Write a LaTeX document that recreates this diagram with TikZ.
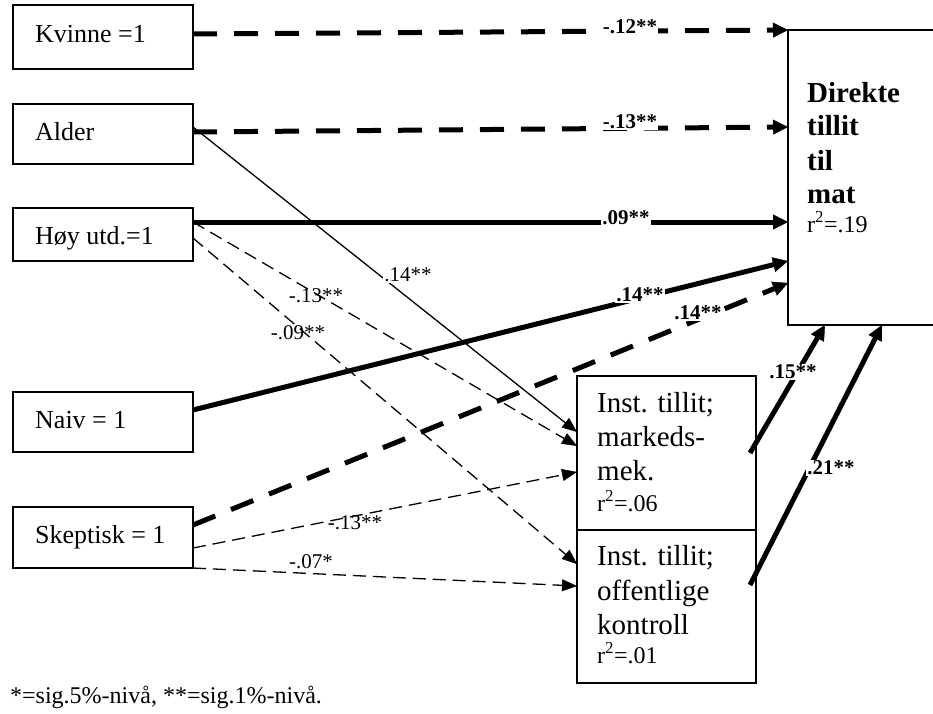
\documentclass[tikz,border=0pt]{standalone}
\usepackage{fontspec}
\setmainfont{Liberation Serif}
\usetikzlibrary{arrows.meta}
\begin{document}
\begin{tikzpicture}[x=1pt,y=-1pt,
  box/.style={draw, line width=1.4pt, inner sep=0pt, outer sep=0pt},
  lt/.style={anchor=base west, inner sep=0pt, font=\fontsize{26}{30}\selectfont},
  rt/.style={anchor=base west, inner sep=0pt, font=\fontsize{29}{33}\selectfont},
  rb/.style={anchor=base west, inner sep=0pt, font=\fontsize{29}{33}\selectfont\bfseries},
  rr/.style={anchor=base west, inner sep=0pt, font=\fontsize{24}{28}\selectfont},
  lab/.style={inner sep=1pt, font=\fontsize{21}{24}\selectfont},
  gap/.style={lab, fill=white},
  bigtip/.style={-{Triangle[length=15pt,width=15pt,line width=0.4pt]}},
  smalltip/.style={-{Triangle[length=15pt,width=12pt,line width=0.4pt]}},
  thk/.style={line width=5pt, bigtip},
  thkdash/.style={thk, dash pattern=on 24pt off 17pt},
  thn/.style={line width=1.3pt, smalltip},
  thndash/.style={thn, dash pattern=on 13pt off 7pt}
]
\useasboundingbox (0,0) rectangle (933,713);

% boxes
\node[box, minimum width=180pt, minimum height=64pt] (kv) at (103,37) {};
\node[box, minimum width=180pt, minimum height=60pt] (al) at (103,134) {};
\node[box, minimum width=180pt, minimum height=53pt] (hu) at (103,234.5) {};
\node[box, minimum width=180pt, minimum height=60pt] (na) at (103,422) {};
\node[box, minimum width=180pt, minimum height=61pt] (sk) at (103,537.5) {};
\node[box, minimum width=160pt, minimum height=295pt] (dir) at (868,177.5) {};
\node[box, minimum width=179pt, minimum height=154pt] (m1) at (666.5,453) {};
\node[box, minimum width=179pt, minimum height=153pt] (m2) at (666.5,606.5) {};

% box texts
\node[lt] (tkv) at (35,42) {Kvinne =1};
\node[lt] (tal) at (35,140) {Alder};
\node[lt] (thu) at (35,244) {Høy utd.=1};
\node[lt] (tna) at (35,428) {Naiv = 1};
\node[lt] (tsk) at (35,543) {Skeptisk = 1};

\node[rb] (td1) at (807,102) {Direkte};
\node[rb] (td2) at (807,135) {tillit};
\node[rb] (td3) at (807,170) {til};
\node[rb] (td4) at (807,203) {mat};
\node[rr] (td5) at (807,232) {r\textsuperscript{2}=.19};

\node[rt] (ta1) at (597,412) {Inst. tillit;};
\node[rt] (ta2) at (597,446) {markeds-};
\node[rt] (ta3) at (597,480) {mek.};
\node[rr] (ta4) at (597,511) {r\textsuperscript{2}=.06};

\node[rt] (tb1) at (597,565) {Inst. tillit;};
\node[rt] (tb2) at (597,600) {offentlige};
\node[rt] (tb3) at (597,634) {kontroll};
\node[rr] (tb4) at (597,663) {r\textsuperscript{2}=.01};

% connectors
\draw[thkdash] ([yshift=3pt]kv.east) -- (dir.north west);
\draw[thkdash] ([yshift=2pt]al.east) -- ([yshift=-97pt]dir.north west);
\draw[thn] ([yshift=7pt]al.east) -- ([yshift=-56pt]m1.north west);
\draw[thk] ([yshift=12.5pt]hu.east) -- ([yshift=-192pt]dir.north west);
\draw[thndash] ([yshift=12.5pt]hu.east) -- ([yshift=-70pt]m1.north west);
\draw[thndash] ([yshift=-3.5pt]hu.east) -- ([yshift=-34pt]m2.north west);
\draw[thk] ([yshift=12pt]na.east) -- ([yshift=-231pt]dir.north west);
\draw[thkdash] ([yshift=12.5pt]sk.east) -- ([yshift=-253pt]dir.north west);
\draw[thndash] ([yshift=-10.5pt]sk.east) -- ([yshift=-96pt]m1.north west);
\draw[thndash] (sk.south east) -- ([yshift=-56pt]m2.north west);
\draw[thk] ([xshift=-6pt]m1.east) -- ([xshift=37pt]dir.south west);
\draw[thk] ([xshift=-6pt,yshift=21.5pt]m2.east) -- ([xshift=94pt]dir.south west);

% labels
\node[gap] (l1) at (630,27) {\textbf{-.12**}};
\node[gap] (l2) at (630,122) {\textbf{-.13**}};
\node[gap] (l3) at (626,218) {\textbf{.09**}};
\node[gap] (l4) at (408,275) {.14**};
\node[lab] (l5) at (316,296) {-.13**};
\node[lab] (l6) at (298,333) {-.09**};
\node[gap] (l7) at (640,295) {\textbf{.14**}};
\node[gap] (l8) at (698,313) {\textbf{.14**}};
\node[lab] (l9) at (355,523) {-.13**};
\node[lab] (l10) at (311,562) {-.07*};
\node[gap] (l11) at (793,372) {\textbf{.15**}};
\node[gap] (l12) at (831,468) {\textbf{.21**}};

% footnote
\node[anchor=base west, inner sep=0pt, font=\fontsize{24}{28}\selectfont] (fn) at (10,703) {*=sig.5\%-nivå, **=sig.1\%-nivå.};
\end{tikzpicture}
\end{document}
